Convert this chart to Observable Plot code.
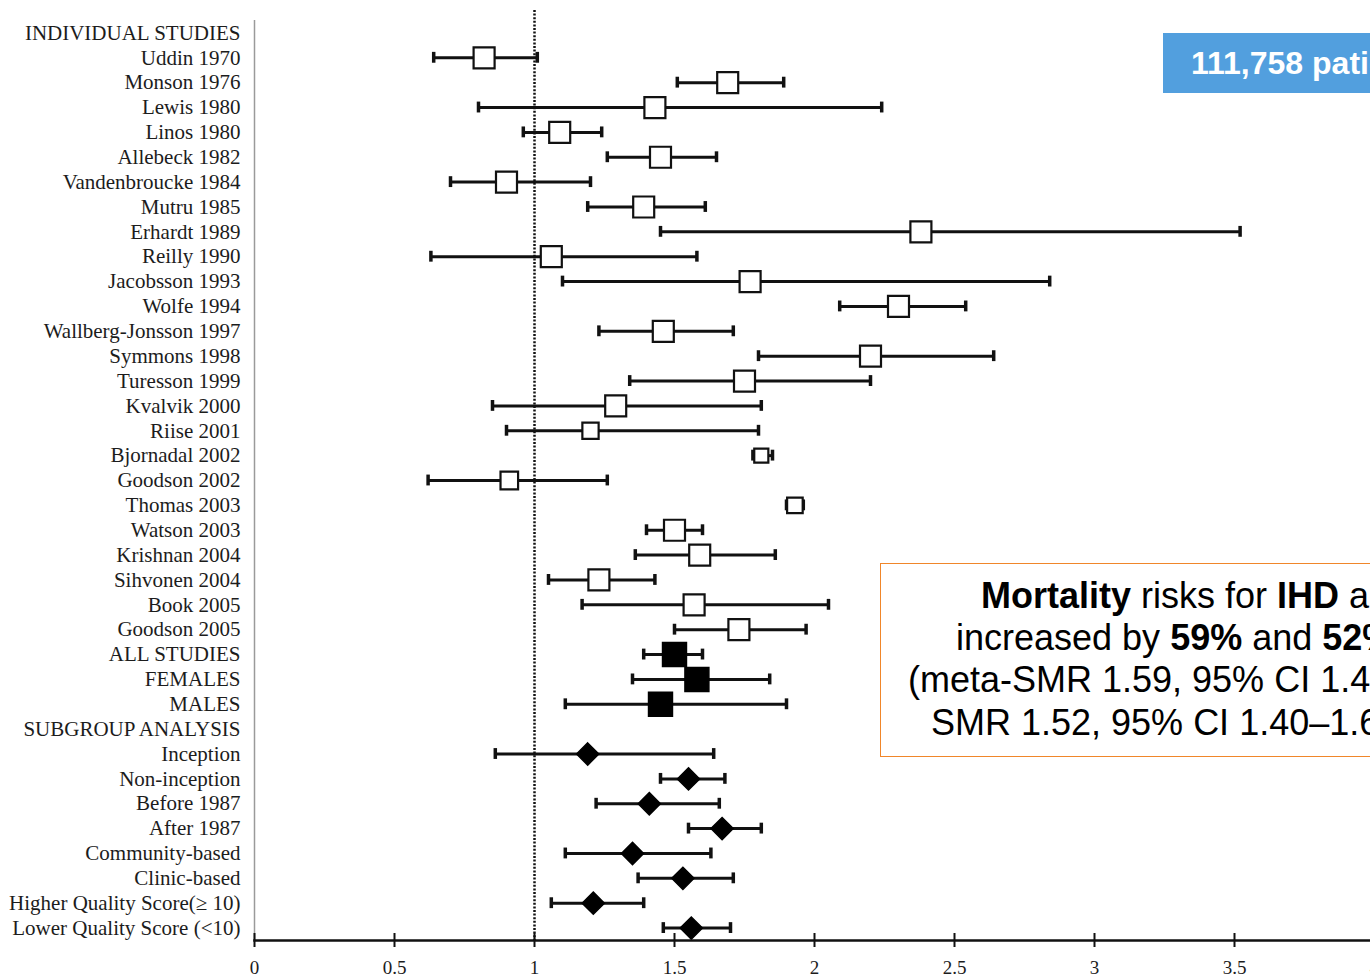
<!DOCTYPE html>
<html>
<head>
<meta charset="utf-8">
<script src="https://cdn.jsdelivr.net/npm/d3@7"></script>
<script src="https://cdn.jsdelivr.net/npm/@observablehq/plot@0.6"></script>
<style>
  html, body { margin: 0; padding: 0; background: #fff; overflow: hidden; }
  #wrap { position: relative; width: 1370px; height: 979px; overflow: hidden; }
  #chart { position: absolute; left: 0; top: 0; width: 1380px; }
  #chart svg { max-width: none !important; }
  .blue { position: absolute; left: 1163px; top: 33px; width: 420px; height: 60px; background: #529fde; color: #fff;
          font: bold 32px "Liberation Sans", Arial, sans-serif; line-height: 60px; padding-left: 28px;
          box-sizing: border-box; white-space: nowrap; }
  .orange { position: absolute; left: 880px; top: 563px; width: 720px; height: 194px; border: 1.5px solid #f0862a;
            box-sizing: border-box; background: #fff; font: 36px "Liberation Sans", Arial, sans-serif; color: #000; }
  .orange div { position: absolute; white-space: nowrap; line-height: 36px; }
</style>
</head>
<body>
<div id="wrap">
  <div id="chart"></div>
  <div class="blue">111,758 patients</div>
  <div class="orange">
    <div style="left:100px;top:14px"><b>Mortality</b> risks for <b>IHD</b> and <b>CVA</b> were</div>
    <div style="left:75px;top:56px">increased by <b>59%</b> and <b>52%</b>, respectively</div>
    <div style="left:27px;top:98px">(meta-SMR 1.59, 95% CI 1.46–1.73 and meta-</div>
    <div style="left:50px;top:141px">SMR 1.52, 95% CI 1.40–1.67)</div>
  </div>
</div>
<script>
const labels = [
  "INDIVIDUAL STUDIES", "Uddin 1970", "Monson 1976", "Lewis 1980", "Linos 1980", "Allebeck 1982",
  "Vandenbroucke 1984", "Mutru 1985", "Erhardt 1989", "Reilly 1990", "Jacobsson 1993", "Wolfe 1994",
  "Wallberg-Jonsson 1997", "Symmons 1998", "Turesson 1999", "Kvalvik 2000", "Riise 2001", "Bjornadal 2002",
  "Goodson 2002", "Thomas 2003", "Watson 2003", "Krishnan 2004", "Sihvonen 2004", "Book 2005", "Goodson 2005",
  "ALL STUDIES", "FEMALES", "MALES", "SUBGROUP ANALYSIS", "Inception", "Non-inception", "Before 1987",
  "After 1987", "Community-based", "Clinic-based", "Higher Quality Score(≥ 10)", "Lower Quality Score (<10)"
];
const est = [null, 0.82, 1.69, 1.43, 1.09, 1.45, 0.90, 1.39, 2.38, 1.06, 1.77, 2.30, 1.46, 2.20, 1.75, 1.29, 1.20,
  1.81, 0.91, 1.93, 1.50, 1.59, 1.23, 1.57, 1.73, 1.50, 1.58, 1.45, null, 1.19, 1.55, 1.41, 1.67, 1.35, 1.53, 1.21, 1.56];
const lo = [null, 0.64, 1.51, 0.80, 0.96, 1.26, 0.70, 1.19, 1.45, 0.63, 1.10, 2.09, 1.23, 1.80, 1.34, 0.85, 0.90,
  1.78, 0.62, 1.90, 1.40, 1.36, 1.05, 1.17, 1.50, 1.39, 1.35, 1.11, null, 0.86, 1.45, 1.22, 1.55, 1.11, 1.37, 1.06, 1.46];
const hi = [null, 1.01, 1.89, 2.24, 1.24, 1.65, 1.20, 1.61, 3.52, 1.58, 2.84, 2.54, 1.71, 2.64, 2.20, 1.81, 1.80,
  1.85, 1.26, 1.96, 1.60, 1.86, 1.43, 2.05, 1.97, 1.60, 1.84, 1.90, null, 1.64, 1.68, 1.66, 1.81, 1.63, 1.71, 1.39, 1.70];
const kind = ["header", "open", "open", "open", "open", "open", "open", "open", "open", "open", "open", "open",
  "open", "open", "open", "open", "open", "open", "open", "open", "open", "open", "open", "open", "open",
  "filled", "filled", "filled", "header", "diamond", "diamond", "diamond", "diamond", "diamond", "diamond", "diamond", "diamond"];
// relative study weight (marker area) for individual studies
const weight = [null, 1, 1, 1, 1, 1, 1, 1, 1, 1, 1, 1, 1, 1, 1, 1, 0.6, 0.45, 0.7, 0.55, 1, 1, 1, 1, 1,
  null, null, null, null, null, null, null, null, null, null, null, null];
const xTicks = [0, 0.5, 1, 1.5, 2, 2.5, 3, 3.5, 4];

const rows = labels.map((label, i) => ({label, est: est[i], lo: lo[i], hi: hi[i], kind: kind[i], weight: weight[i]}));
const ci = rows.filter(d => d.kind !== "header");
const ink = "#111";

const chart = Plot.plot({
  width: 1380,
  height: 979,
  marginLeft: 254,
  marginRight: 6,
  marginTop: 20,
  marginBottom: 39,
  x: {domain: [0, 4], ticks: xTicks},
  y: {type: "band", domain: labels, padding: 0},
  r: {type: "sqrt", domain: [0, 1], range: [0, 11.85]},
  style: {fontFamily: '"Liberation Serif", "Times New Roman", serif', fontSize: "20px", color: "#1c1c1c", background: "white", overflow: "visible", maxWidth: "none"},
  marks: [
    Plot.ruleX([0], {stroke: "#9a9a9a", strokeWidth: 1.5}),
    Plot.ruleX([1], {stroke: ink, strokeWidth: 2.5, strokeDasharray: "2 1.6", insetTop: -10}),
    Plot.ruleY(ci, {y: "label", x1: "lo", x2: "hi", stroke: ink, strokeWidth: 3}),
    Plot.tickX(ci, {x: "lo", y: "label", stroke: ink, strokeWidth: 3.5, insetTop: 7, insetBottom: 7}),
    Plot.tickX(ci, {x: "hi", y: "label", stroke: ink, strokeWidth: 3.5, insetTop: 7, insetBottom: 7}),
    Plot.dot(ci.filter(d => d.kind === "open"), {x: "est", y: "label", r: "weight", symbol: "square", fill: "white", stroke: ink, strokeWidth: 2.2}),
    Plot.dot(ci.filter(d => d.kind === "filled"), {x: "est", y: "label", r: 13.5, symbol: "square", fill: "#000", stroke: "#000"}),
    Plot.dot(ci.filter(d => d.kind === "diamond"), {x: "est", y: "label", r: 10, symbol: "diamond2", fill: "#000", stroke: "#000"}),
    Plot.frame({anchor: "bottom", stroke: ink, strokeWidth: 2.5}),
    Plot.axisX({ticks: xTicks, tickSize: 14, dy: -7, tickPadding: 13, strokeWidth: 2, stroke: ink, tickFormat: d => String(d), fontSize: 19, label: null}),
    Plot.axisY({tickSize: 0, tickPadding: 14, label: null, fontSize: 21})
  ]
});
document.getElementById("chart").appendChild(chart);
</script>
</body>
</html>
